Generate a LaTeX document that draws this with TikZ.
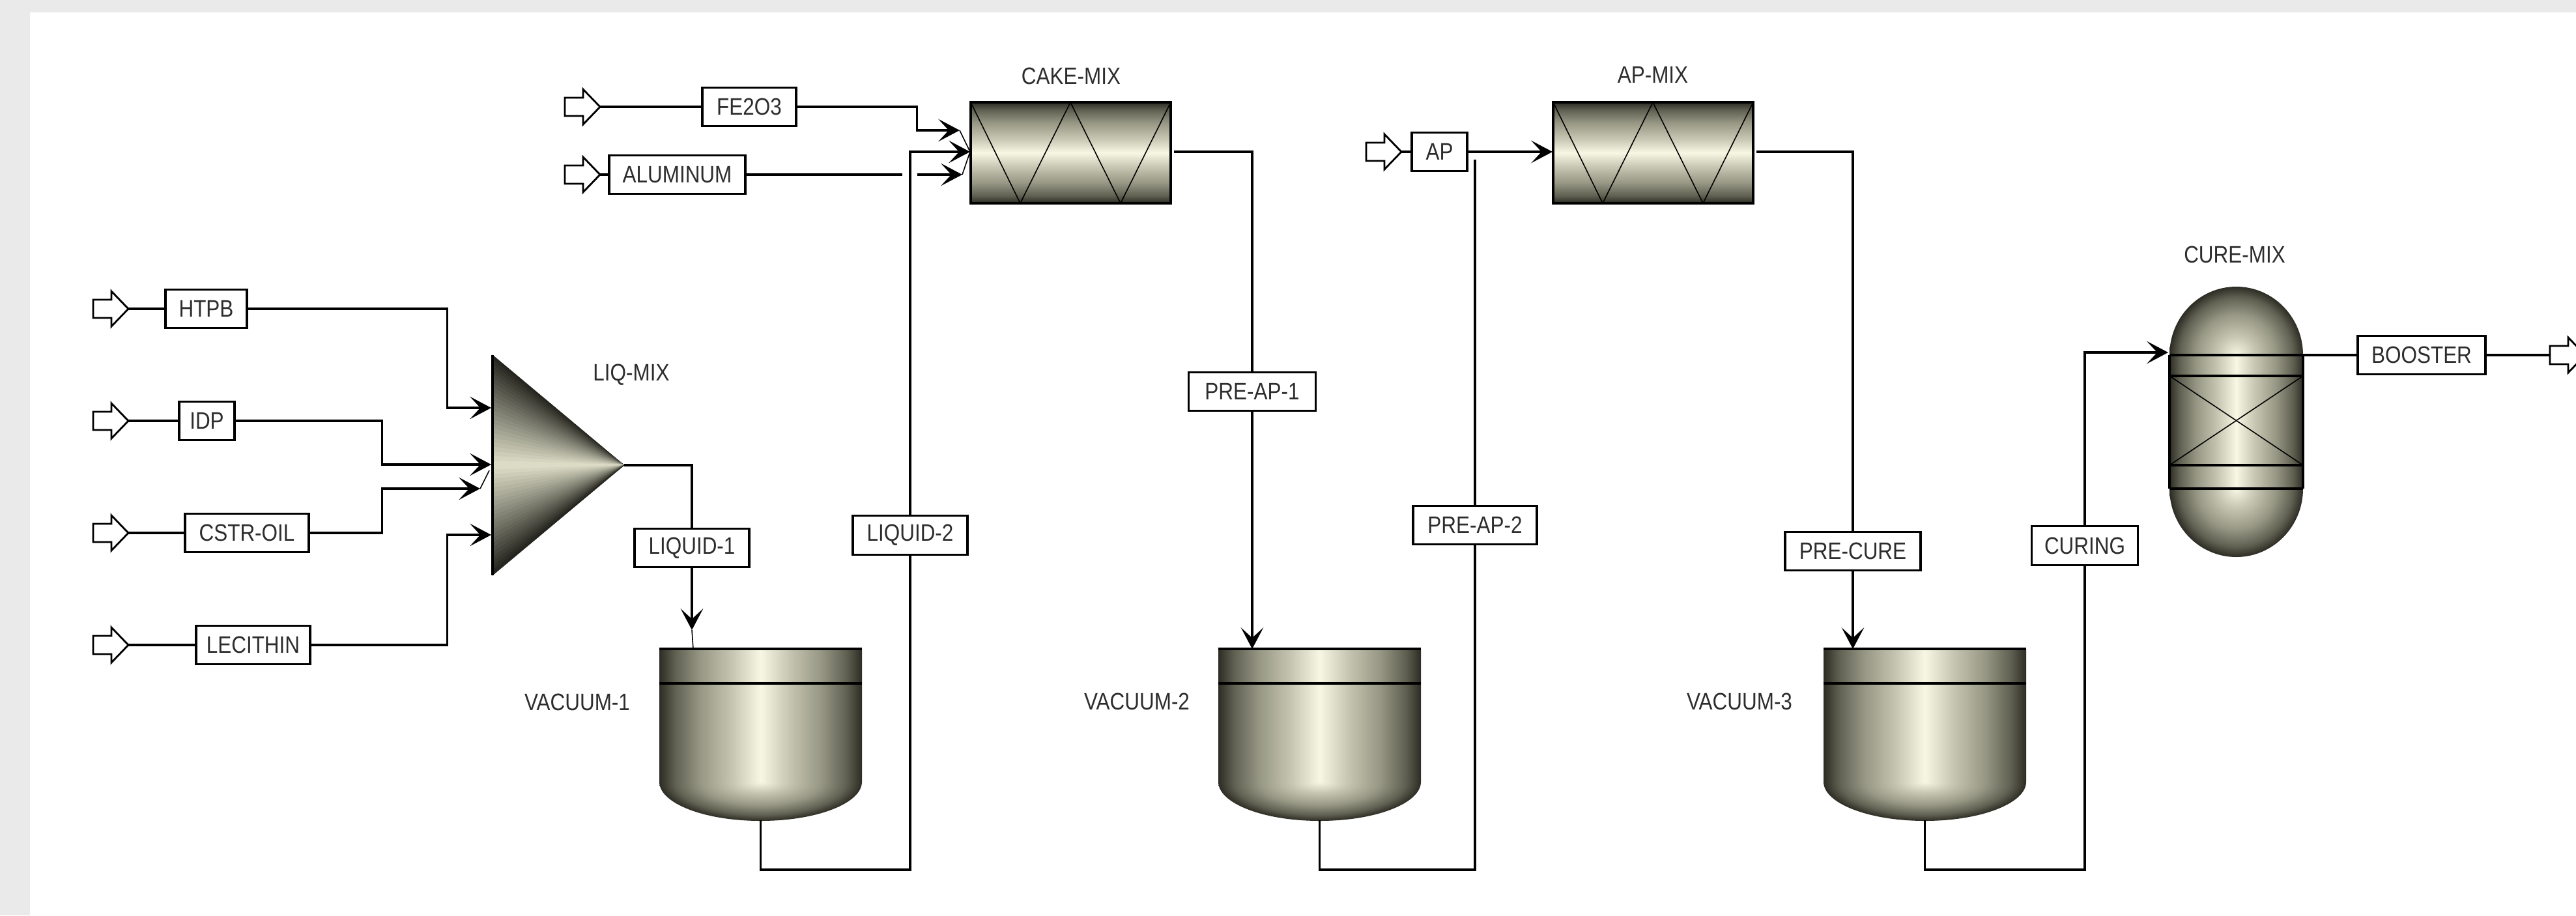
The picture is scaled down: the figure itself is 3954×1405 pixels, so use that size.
\documentclass[tikz,border=0pt]{standalone}
\usepackage{fontspec}
\setmainfont[FakeStretch=0.86]{Liberation Sans}
\usepackage{xcolor}
\usetikzlibrary{arrows.meta}
\definecolor{metalA}{RGB}{44, 44, 36}
\definecolor{metalB}{RGB}{98, 98, 84}
\definecolor{metalC}{RGB}{150, 150, 132}
\definecolor{metalD}{RGB}{198, 198, 178}
\definecolor{metalE}{RGB}{247, 247, 228}
\definecolor{coneLight}{RGB}{224, 224, 202}
\definecolor{coneDark}{RGB}{34, 34, 28}
\definecolor{bgGrey}{RGB}{234, 234, 234}
\definecolor{textGrey}{RGB}{45, 45, 45}
\pgfdeclarehorizontalshading{metalh}{100bp}{color(0bp)=(metalA); color(25bp)=(metalA); color(29bp)=(metalB); color(35bp)=(metalC); color(43bp)=(metalD); color(50bp)=(metalE); color(57bp)=(metalD); color(65bp)=(metalC); color(71bp)=(metalB); color(75bp)=(metalA); color(100bp)=(metalA)}
\pgfdeclareverticalshading{metalv}{100bp}{color(0bp)=(metalA); color(25bp)=(metalA); color(29bp)=(metalB); color(35bp)=(metalC); color(43bp)=(metalD); color(50bp)=(metalE); color(57bp)=(metalD); color(65bp)=(metalC); color(71bp)=(metalB); color(75bp)=(metalA); color(100bp)=(metalA)}
\pgfdeclareradialshading{metalr}{\pgfpointorigin}{color(0bp)=(metalE); color(7bp)=(metalD); color(15bp)=(metalC); color(21bp)=(metalB); color(25bp)=(metalA); color(50bp)=(metalA)}
\tikzset{
  strm/.style={line width=0.95pt, draw=black},
  arr/.style={strm, -{Stealth[length=9.3pt,width=9.8pt,inset=4.5pt]}},
  stub/.style={line width=0.45pt, draw=black},
  tag/.style={draw=black, line width=0.95pt, fill=white, text=textGrey, inner sep=0pt, minimum height=0.595cm, font=\fontsize{10.4}{12}\selectfont},
  unitlabel/.style={text=textGrey, inner sep=0pt, font=\fontsize{10.4}{12}\selectfont},
  feed/.pic={
    \draw[line width=0.8pt, fill=white] (0,-14) -- (28,-14) -- (28,-27) -- (54,0) -- (28,27) -- (28,14) -- (0,14) -- cycle;
    \coordinate (-back) at (0,0);
    \coordinate (-tip) at (54,0);
  },
  splitter/.pic={
    \foreach \i in {0,...,47} {
      \pgfmathsetmacro{\mixval}{100*(1-abs(\i+0.5-24)/24)}
      \fill[coneLight!\mixval!coneDark, draw=coneLight!\mixval!coneDark, line width=0.2pt]
        (202,169) -- (0,{\i*338/48}) -- (0,{(\i+1)*338/48}) -- cycle;
    }
    \draw[strm] (0,0) -- (0,338);
    \coordinate (-a) at (-2,81);
    \coordinate (-b) at (-2,168);
    \coordinate (-c) at (-19,205);
    \coordinate (-d) at (-2,276);
    \coordinate (-e) at (-5,177);
    \coordinate (-tip) at (202,169);
  },
  mixer/.pic={
    \shade[shading=metalv] (0,0) rectangle (307,155);
    \draw[stub] (0,0) -- (76,155) -- (153,0) -- (230,155) -- (307,0);
    \draw[strm] (0,0) rectangle (307,155);
    \coordinate (-in) at (-1,76);
    \coordinate (-out) at (312,76);
  },
  tank/.pic={
    \shade[shading=metalh] (0,0) rectangle (311,204);
    \begin{scope}
      \clip (0,204) rectangle (311,264);
      \shade[shading=metalr] (155.5,204) ellipse (155.5 and 60);
    \end{scope}
    \draw[strm] (0,0) -- (311,0);
    \draw[strm] (0,53) -- (311,53);
    \coordinate (-in) at (52,0);
    \coordinate (-out) at (155.5,263);
  },
  column/.pic={
    \shade[shading=metalh] (0,105) rectangle (205,310);
    \begin{scope}
      \clip (0,0) rectangle (205,105);
      \shade[shading=metalr] (102.5,105) ellipse (102.5 and 105);
    \end{scope}
    \begin{scope}
      \clip (0,310) rectangle (205,415);
      \shade[shading=metalr] (102.5,310) ellipse (102.5 and 105);
    \end{scope}
    \draw[stub] (0,137) -- (205,274);
    \draw[stub] (205,137) -- (0,274);
    \foreach \yy in {105,137,274,310}
      \draw[strm] (0,\yy) -- (205,\yy);
    \draw[strm] (0,105) -- (0,310);
    \draw[strm] (205,105) -- (205,310);
    \coordinate (-in) at (-2,101);
    \coordinate (-out) at (205,105);
  },
}
\begin{document}
\begin{tikzpicture}[x=0.01cm,y=-0.01cm]
    \useasboundingbox (0,0) rectangle (3954,1405);
    \fill[bgGrey] (0,0) rectangle (3954,1405);
    \fill[white] (46,19) rectangle (3954,1405);

    \pic (liqmix) at (756,545) {splitter};
    \pic (cakemix) at (1490,157) {mixer};
    \pic (apmix) at (2384,157) {mixer};
    \pic (vac1) at (1012,996) {tank};
    \pic (vac2) at (1870,996) {tank};
    \pic (vac3) at (2799,996) {tank};
    \pic (curemix) at (3330,440) {column};

    \node[unitlabel] (liqlab) at (969,575) {LIQ-MIX};
    \node[unitlabel] (cakelab) at (1644,117) {CAKE-MIX};
    \node[unitlabel] (aplab) at (2537,115) {AP-MIX};
    \node[unitlabel] (curelab) at (3430,391) {CURE-MIX};
    \node[unitlabel] (vac1lab) at (886,1078) {VACUUM-1};
    \node[unitlabel] (vac2lab) at (1745,1077) {VACUUM-2};
    \node[unitlabel] (vac3lab) at (2670,1077) {VACUUM-3};

    \pic (inhtpb) at (143,474) {feed};
    \pic (inidp) at (143,646) {feed};
    \pic (incstr) at (143,818) {feed};
    \pic (inlec) at (143,990) {feed};
    \pic (infe) at (867,164) {feed};
    \pic (inal) at (867,268) {feed};
    \pic (inap) at (2097,233) {feed};
    \pic (outboost) at (3914,545) {feed};

    \node[tag, minimum width=1.25cm] (htpb) at (316.5,474) {HTPB};
    \node[tag, minimum width=0.85cm] (idp) at (317.5,646) {IDP};
    \node[tag, minimum width=1.9cm] (cstr) at (379,818) {CSTR-OIL};
    \node[tag, minimum width=1.75cm] (lecithin) at (388.5,990) {LECITHIN};
    \node[tag, minimum width=1.44cm] (fe2o3) at (1150,164) {FE2O3};
    \node[tag, minimum width=2.09cm] (aluminum) at (1039.5,268) {ALUMINUM};
    \node[tag, minimum width=0.85cm] (ap) at (2209.5,233) {AP};
    \node[tag, minimum width=1.76cm] (liquid1) at (1062,841) {LIQUID-1};
    \node[tag, minimum width=1.76cm] (liquid2) at (1397,821.5) {LIQUID-2};
    \node[tag, minimum width=1.95cm] (preap1) at (1922,601) {PRE-AP-1};
    \node[tag, minimum width=1.9cm] (preap2) at (2264,806) {PRE-AP-2};
    \node[tag, minimum width=2.08cm] (precure) at (2844,846) {PRE-CURE};
    \node[tag, minimum width=1.63cm] (curing) at (3200,837.5) {CURING};
    \node[tag, minimum width=1.96cm] (booster) at (3717,545) {BOOSTER};

    \coordinate (vac1tip) at (1062,967);
    \coordinate (apjoin) at (2264,245);
    \coordinate (algap1) at (1385,268);
    \coordinate (algap2) at (1408,268);
    \coordinate (feport) at (1473,200);
    \coordinate (alport) at (1477,268);
    \coordinate (bend1) at (1397,1335);
    \coordinate (bend2) at (2264,1335);
    \coordinate (bend3) at (3200,1335);

    \draw[strm] (inhtpb-tip) -- (htpb);
    \draw[strm] (inidp-tip) -- (idp);
    \draw[strm] (incstr-tip) -- (cstr);
    \draw[strm] (inlec-tip) -- (lecithin);
    \draw[strm] (infe-tip) -- (fe2o3);
    \draw[strm] (inal-tip) -- (aluminum);
    \draw[strm] (inap-tip) -- (ap);

    \draw[arr] (htpb.east) -- ++(306,0) |- (liqmix-a);
    \draw[arr] (idp.east) -- ++(225,0) |- (liqmix-b);
    \draw[arr] (cstr.east) -- ++(111,0) |- (liqmix-c);
    \draw[arr] (lecithin.east) -- ++(209,0) |- (liqmix-d);
    \draw[stub] (liqmix-c) -- (liqmix-e);

    \draw[strm] (liqmix-tip) -| (liquid1.north);
    \draw[arr] (liquid1.south) -- (vac1tip);
    \draw[stub] (vac1tip) -- (vac1-in);

    \draw[strm] (vac1-out) |- (bend1) -- (liquid2.south);
    \draw[arr] (liquid2.north) |- (cakemix-in);
    \draw[arr] (fe2o3.east) -- ++(184,0) |- (feport);
    \draw[strm] (aluminum.east) -- (algap1);
    \draw[arr] (algap2) -- (alport);
    \draw[stub] (feport) -- (cakemix-in);
    \draw[stub] (alport) -- (cakemix-in);

    \draw[strm] (cakemix-out) -| (preap1.north);
    \draw[arr] (preap1.south) -- (vac2-in);
    \draw[strm] (vac2-out) |- (bend2) -- (preap2.south);
    \draw[strm] (preap2.north) -- (apjoin);
    \draw[arr] (ap.east) -- (apmix-in);

    \draw[strm] (apmix-out) -| (precure.north);
    \draw[arr] (precure.south) -- (precure.south |- vac3-in);
    \draw[strm] (vac3-out) |- (bend3) -- (curing.south);
    \draw[arr] (curing.north) |- (curemix-in);

    \draw[strm] (curemix-out) -- (booster);
    \draw[strm] (booster) -- (outboost-back);
\end{tikzpicture}
\end{document}
